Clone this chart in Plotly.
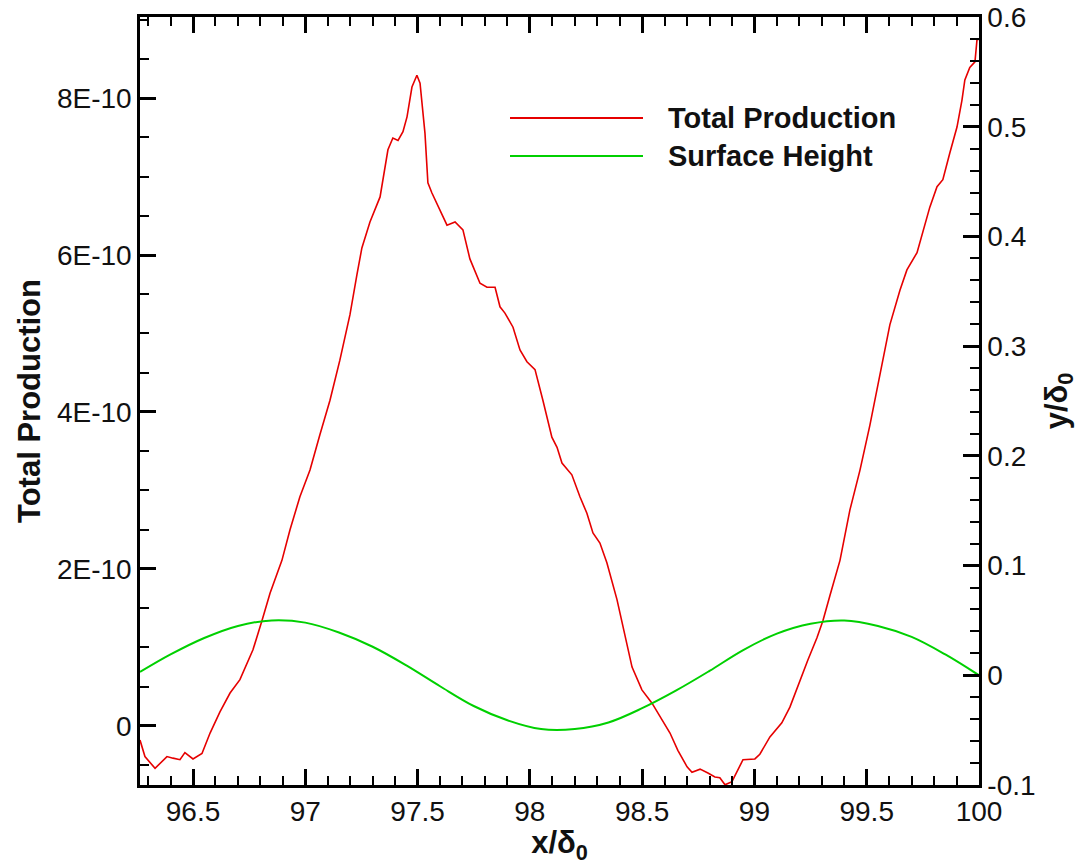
import plotly.graph_objects as go

# ---------------- data ----------------
prod_x = [96.264, 96.286, 96.331, 96.384, 96.411, 96.442, 96.464, 96.500, 96.540, 96.576,
          96.620, 96.665, 96.709, 96.767, 96.807, 96.843, 96.896, 96.932, 96.976, 97.021,
          97.065, 97.110, 97.154, 97.199, 97.230, 97.252, 97.288, 97.333, 97.368, 97.390,
          97.413, 97.435, 97.453, 97.475, 97.497, 97.511, 97.533, 97.546, 97.564, 97.600,
          97.631, 97.667, 97.702, 97.733, 97.778, 97.809, 97.845, 97.867, 97.889, 97.925,
          97.956, 97.987, 98.023, 98.058, 98.098, 98.121, 98.143, 98.187, 98.223, 98.254,
          98.281, 98.312, 98.343, 98.388, 98.415, 98.455, 98.499, 98.544, 98.588, 98.624,
          98.659, 98.700, 98.722, 98.758, 98.793, 98.824, 98.846, 98.869, 98.900, 98.922,
          98.949, 99.002, 99.024, 99.069, 99.122, 99.158, 99.194, 99.238, 99.278, 99.305,
          99.336, 99.381, 99.425, 99.470, 99.514, 99.559, 99.603, 99.648, 99.679, 99.724,
          99.750, 99.781, 99.813, 99.839, 99.870, 99.902, 99.924, 99.937, 99.959, 99.982,
          99.991, 100.0]
# Total production in units of 1E-10
prod_e10 = [-0.18, -0.39, -0.54, -0.39, -0.41, -0.43, -0.34, -0.42, -0.35, -0.09,
            0.18, 0.42, 0.59, 0.97, 1.34, 1.69, 2.11, 2.50, 2.92, 3.26,
            3.71, 4.15, 4.66, 5.24, 5.75, 6.09, 6.42, 6.74, 7.34, 7.49,
            7.46, 7.57, 7.76, 8.14, 8.29, 8.19, 7.55, 6.92, 6.79, 6.57,
            6.38, 6.42, 6.32, 5.95, 5.64, 5.59, 5.59, 5.34, 5.26, 5.08,
            4.79, 4.64, 4.54, 4.15, 3.68, 3.55, 3.35, 3.20, 2.92, 2.71,
            2.46, 2.33, 2.08, 1.61, 1.26, 0.75, 0.46, 0.29, 0.08, -0.09,
            -0.31, -0.52, -0.59, -0.55, -0.60, -0.65, -0.66, -0.75, -0.71, -0.58,
            -0.43, -0.42, -0.36, -0.14, 0.04, 0.24, 0.52, 0.84, 1.12, 1.34,
            1.66, 2.11, 2.75, 3.26, 3.83, 4.47, 5.11, 5.55, 5.81, 6.03,
            6.28, 6.61, 6.87, 6.96, 7.30, 7.63, 7.97, 8.23, 8.39, 8.46,
            8.74, 8.75]
prod_scale = 1e-10

surf_x = [96.264, 96.4, 96.55, 96.7, 96.85, 97.0, 97.15, 97.3, 97.45, 97.6,
          97.75, 97.9, 98.05, 98.2, 98.35, 98.5, 98.65, 98.8, 98.95, 99.1,
          99.25, 99.4, 99.55, 99.7, 99.85, 100.0]
surf_y = [0.003, 0.019, 0.034, 0.045, 0.050, 0.048, 0.039, 0.026, 0.009, -0.010,
          -0.028, -0.041, -0.049, -0.049, -0.043, -0.030, -0.014, 0.004, 0.023, 0.038,
          0.047, 0.050, 0.045, 0.035, 0.019, 0.000]

x_ticks = [96.5, 97, 97.5, 98, 98.5, 99, 99.5, 100]
x_ticktext = ["96.5", "97", "97.5", "98", "98.5", "99", "99.5", "100"]
y_ticks = [0, 2e-10, 4e-10, 6e-10, 8e-10]
y_ticktext = ["0", "2E-10", "4E-10", "6E-10", "8E-10"]
y2_ticks = [-0.1, 0, 0.1, 0.2, 0.3, 0.4, 0.5, 0.6]
y2_ticktext = ["-0.1", "0", "0.1", "0.2", "0.3", "0.4", "0.5", "0.6"]

series_names = ["Total Production", "Surface Height"]
series_colors = ["#e60000", "#00d000"]

# ---------------- figure ----------------
prod_y = [v * prod_scale for v in prod_e10]

fig = go.Figure()
fig.add_trace(go.Scatter(x=prod_x, y=prod_y, mode="lines", name=series_names[0],
                         line=dict(color=series_colors[0], width=1.6), yaxis="y"))
fig.add_trace(go.Scatter(x=surf_x, y=surf_y, mode="lines", name=series_names[1],
                         line=dict(color=series_colors[1], width=2, shape="spline"), yaxis="y2"))

FONT = "Liberation Sans, Arial, Helvetica, sans-serif"
tickfont = dict(family=FONT, size=28, color="#111")
titlefont = dict(family=FONT, size=31, color="#111")

L, R, T, B = 140, 110, 17, 80
W, H = 1089, 865

fig.update_layout(
    width=W, height=H,
    margin=dict(l=L, r=R, t=T, b=B),
    paper_bgcolor="white", plot_bgcolor="white",
    showlegend=False,
    xaxis=dict(range=[96.264, 100.0], tickvals=x_ticks, ticktext=x_ticktext, automargin=False,
               showgrid=False, zeroline=False, showline=True, linecolor="black", linewidth=2.5,
               mirror="ticks", ticks="inside", ticklen=16, tickwidth=2.5, tickcolor="black",
               tickfont=tickfont,
               minor=dict(tickmode="linear", tick0=96.0, dtick=0.1, ticks="inside",
                          ticklen=9, tickwidth=2, tickcolor="black"),
               title=dict(text="<b>x/δ<sub>0</sub></b>", font=titlefont, standoff=0)),
    yaxis=dict(range=[-0.752e-10, 9.032e-10], tickvals=y_ticks, ticktext=y_ticktext, automargin=False,
               showgrid=False, zeroline=False, showline=True, linecolor="black", linewidth=2.5,
               ticks="inside", ticklen=16, tickwidth=2.5, tickcolor="black", tickfont=tickfont,
               minor=dict(tickmode="linear", tick0=0, dtick=0.5e-10, ticks="inside",
                          ticklen=9, tickwidth=2, tickcolor="black"),
               title=dict(text="<b>Total Production</b>", font=titlefont, standoff=8)),
    yaxis2=dict(range=[-0.1, 0.6], tickvals=y2_ticks, ticktext=y2_ticktext, automargin=False,
                overlaying="y", side="right", anchor="x",
                showgrid=False, zeroline=False, showline=True, linecolor="black", linewidth=2.5,
                ticks="inside", ticklen=16, tickwidth=2.5, tickcolor="black", tickfont=tickfont,
                minor=dict(tickmode="linear", tick0=0, dtick=0.02, ticks="inside",
                           ticklen=9, tickwidth=2, tickcolor="black"),
                title=dict(text="<b>y/δ<sub>0</sub></b>", font=titlefont, standoff=11)),
)

# manual legend (long line samples as in the reference)
pw, ph = W - L - R, H - T - B
def px2paper(px, py):
    return (px - L) / pw, (H - B - py) / ph

legend_rows = [118, 156]
for name, color, py in zip(series_names, series_colors, legend_rows):
    x0, y0 = px2paper(510, py)
    x1, _ = px2paper(643, py)
    fig.add_shape(type="line", xref="paper", yref="paper", x0=x0, x1=x1, y0=y0, y1=y0,
                  line=dict(color=color, width=2))
    tx, ty = px2paper(666, py)
    fig.add_annotation(xref="paper", yref="paper", x=tx, y=ty, xanchor="left", yanchor="middle",
                       text="<b>" + name + "</b>", showarrow=False,
                       font=dict(family=FONT, size=29, color="#111"))

fig.write_html("out.html")
